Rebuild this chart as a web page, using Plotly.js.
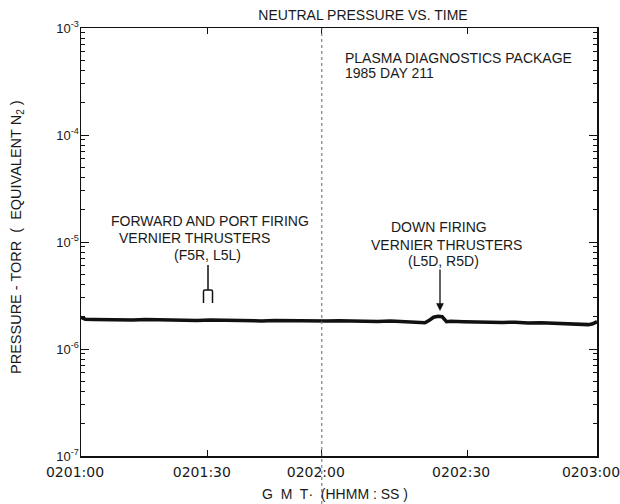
<!DOCTYPE html>
<html>
<head>
<meta charset="utf-8">
<script src="https://cdn.plot.ly/plotly-3.0.1.min.js"></script>
<style>html,body{margin:0;padding:0;background:#fff;}#chart{width:620px;height:504px;}</style>
</head>
<body>
<div id="chart"></div>
<script>
// time in seconds after 0201:00 GMT
const timeSec = [0,1,3,6,9,12,15,18,21,24,27,30,33,36,39,42,45,48,51,54,57,60,63,66,69,72,75,78,80,81,82,83,84,85,86,89,92,95,98,101,104,107,110,113,116,118,119,120];
// neutral pressure (torr, equivalent N2)
const pressure = [1.97e-6,1.90e-6,1.89e-6,1.88e-6,1.90e-6,1.87e-6,1.89e-6,1.88e-6,1.86e-6,1.88e-6,1.85e-6,1.87e-6,1.86e-6,1.84e-6,1.86e-6,1.83e-6,1.85e-6,1.84e-6,1.82e-6,1.84e-6,1.83e-6,1.84e-6,1.82e-6,1.83e-6,1.81e-6,1.83e-6,1.80e-6,1.79e-6,1.76e-6,1.86e-6,1.98e-6,2.02e-6,2.00e-6,1.80e-6,1.82e-6,1.80e-6,1.78e-6,1.79e-6,1.77e-6,1.78e-6,1.75e-6,1.76e-6,1.74e-6,1.73e-6,1.71e-6,1.69e-6,1.72e-6,1.80e-6];
const xTickVals = [0, 29.5, 56, 89.8, 120];
const xTickText = ['0201:00', '0201:30', '0202:00', '0202:30', '0203:00'];
const yTickVals = [1e-7, 1e-6, 1e-5, 1e-4, 1e-3];
const yTickText = ['10<sup>-7</sup>', '10<sup>-6</sup>', '10<sup>-5</sup>', '10<sup>-4</sup>', '10<sup>-3</sup>'];

const FONT = 'Liberation Sans, Arial, sans-serif';
const INK = '#1a1a1a';

const trace = {
  x: timeSec, y: pressure, type: 'scatter', mode: 'lines',
  line: {color: '#111', width: 3.5}, hoverinfo: 'skip'
};

function txt(t, x, y, extra) {
  return Object.assign({text: t, xref: 'paper', yref: 'paper', x: x, y: y,
    showarrow: false, xanchor: 'center', yanchor: 'middle',
    font: {family: FONT, size: 14, color: INK}}, extra || {});
}
const px = p => (p - 81) / 516;
const py = p => (456 - p) / 428;

const layout = {
  width: 620, height: 504,
  margin: {l: 81, r: 23, t: 28, b: 48},
  paper_bgcolor: '#fff', plot_bgcolor: '#fff',
  showlegend: false,
  title: {text: 'NEUTRAL PRESSURE VS. TIME', x: px(363), xref: 'paper', xanchor: 'center',
          y: 1 - 15/504, yref: 'container', yanchor: 'middle',
          font: {family: FONT, size: 14, color: INK}},
  xaxis: {
    range: [0, 120], tickvals: xTickVals, ticktext: xTickText,
    ticks: 'inside', ticklen: 6, tickcolor: '#111', tickwidth: 1,
    showline: true, linecolor: '#111', linewidth: 1.5, mirror: 'ticks',
    showgrid: false, zeroline: false, ticklabelshift: -6, ticklabelstandoff: 3,
    ticklabeloverflow: 'allow',
    tickfont: {family: 'DejaVu Sans, sans-serif', size: 14, color: INK}
  },
  yaxis: {
    type: 'log', range: [-7, -3], tickvals: yTickVals, ticktext: yTickText,
    ticks: 'inside', ticklen: 8, tickcolor: '#111', tickwidth: 1,
    minor: {ticks: 'inside', ticklen: 4, tickcolor: '#111', dtick: 'D1', showgrid: false},
    showline: true, linecolor: '#111', linewidth: 1.5, mirror: 'ticks',
    showgrid: false, zeroline: false, ticklabelstandoff: -2,
    tickfont: {family: FONT, size: 13, color: INK}
  },
  shapes: [
    {type: 'line', xref: 'x', yref: 'paper', x0: 56, x1: 56, y0: py(504), y1: 1,
     line: {color: '#666', width: 1, dash: 'dot'}},
    {type: 'path', xref: 'paper', yref: 'paper',
     path: `M ${px(208)},${py(265)} L ${px(208)},${py(290)} M ${px(203.5)},${py(303)} L ${px(203.5)},${py(291)} Q ${px(203.5)},${py(290)} ${px(205)},${py(290)} L ${px(211)},${py(290)} Q ${px(212.5)},${py(290)} ${px(212.5)},${py(291)} L ${px(212.5)},${py(303)}`,
     line: {color: '#111', width: 1.5}}
  ],
  annotations: [
    txt('PLASMA DIAGNOSTICS PACKAGE', px(343), py(58), {xanchor: 'left'}),
    txt('1985 DAY 211', px(343), py(73), {xanchor: 'left'}),
    txt('FORWARD AND PORT FIRING', px(210), py(221)),
    txt('VERNIER THRUSTERS', px(194), py(238)),
    txt('(F5R, L5L)', px(207), py(255)),
    txt('DOWN FIRING', px(439), py(227)),
    txt('VERNIER THRUSTERS', px(446), py(245)),
    txt('(L5D, R5D)', px(443), py(261)),
    txt('PRESSURE - TORR  (  EQUIVALENT N<sub>2</sub> )', px(17), py(237), {textangle: -90, font: {family: FONT, size: 14.5, color: INK}}),
    txt('G  M  T·  (HHMM : SS )', px(335), py(494)),
    {text: '', xref: 'paper', yref: 'paper', x: px(440), y: py(311), showarrow: true,
     ax: 0, ay: -43, arrowhead: 2, arrowsize: 1.2, arrowwidth: 1.3, arrowcolor: '#111'}
  ]
};

Plotly.newPlot('chart', [trace], layout, {displayModeBar: false, staticPlot: true});
</script>
</body>
</html>
